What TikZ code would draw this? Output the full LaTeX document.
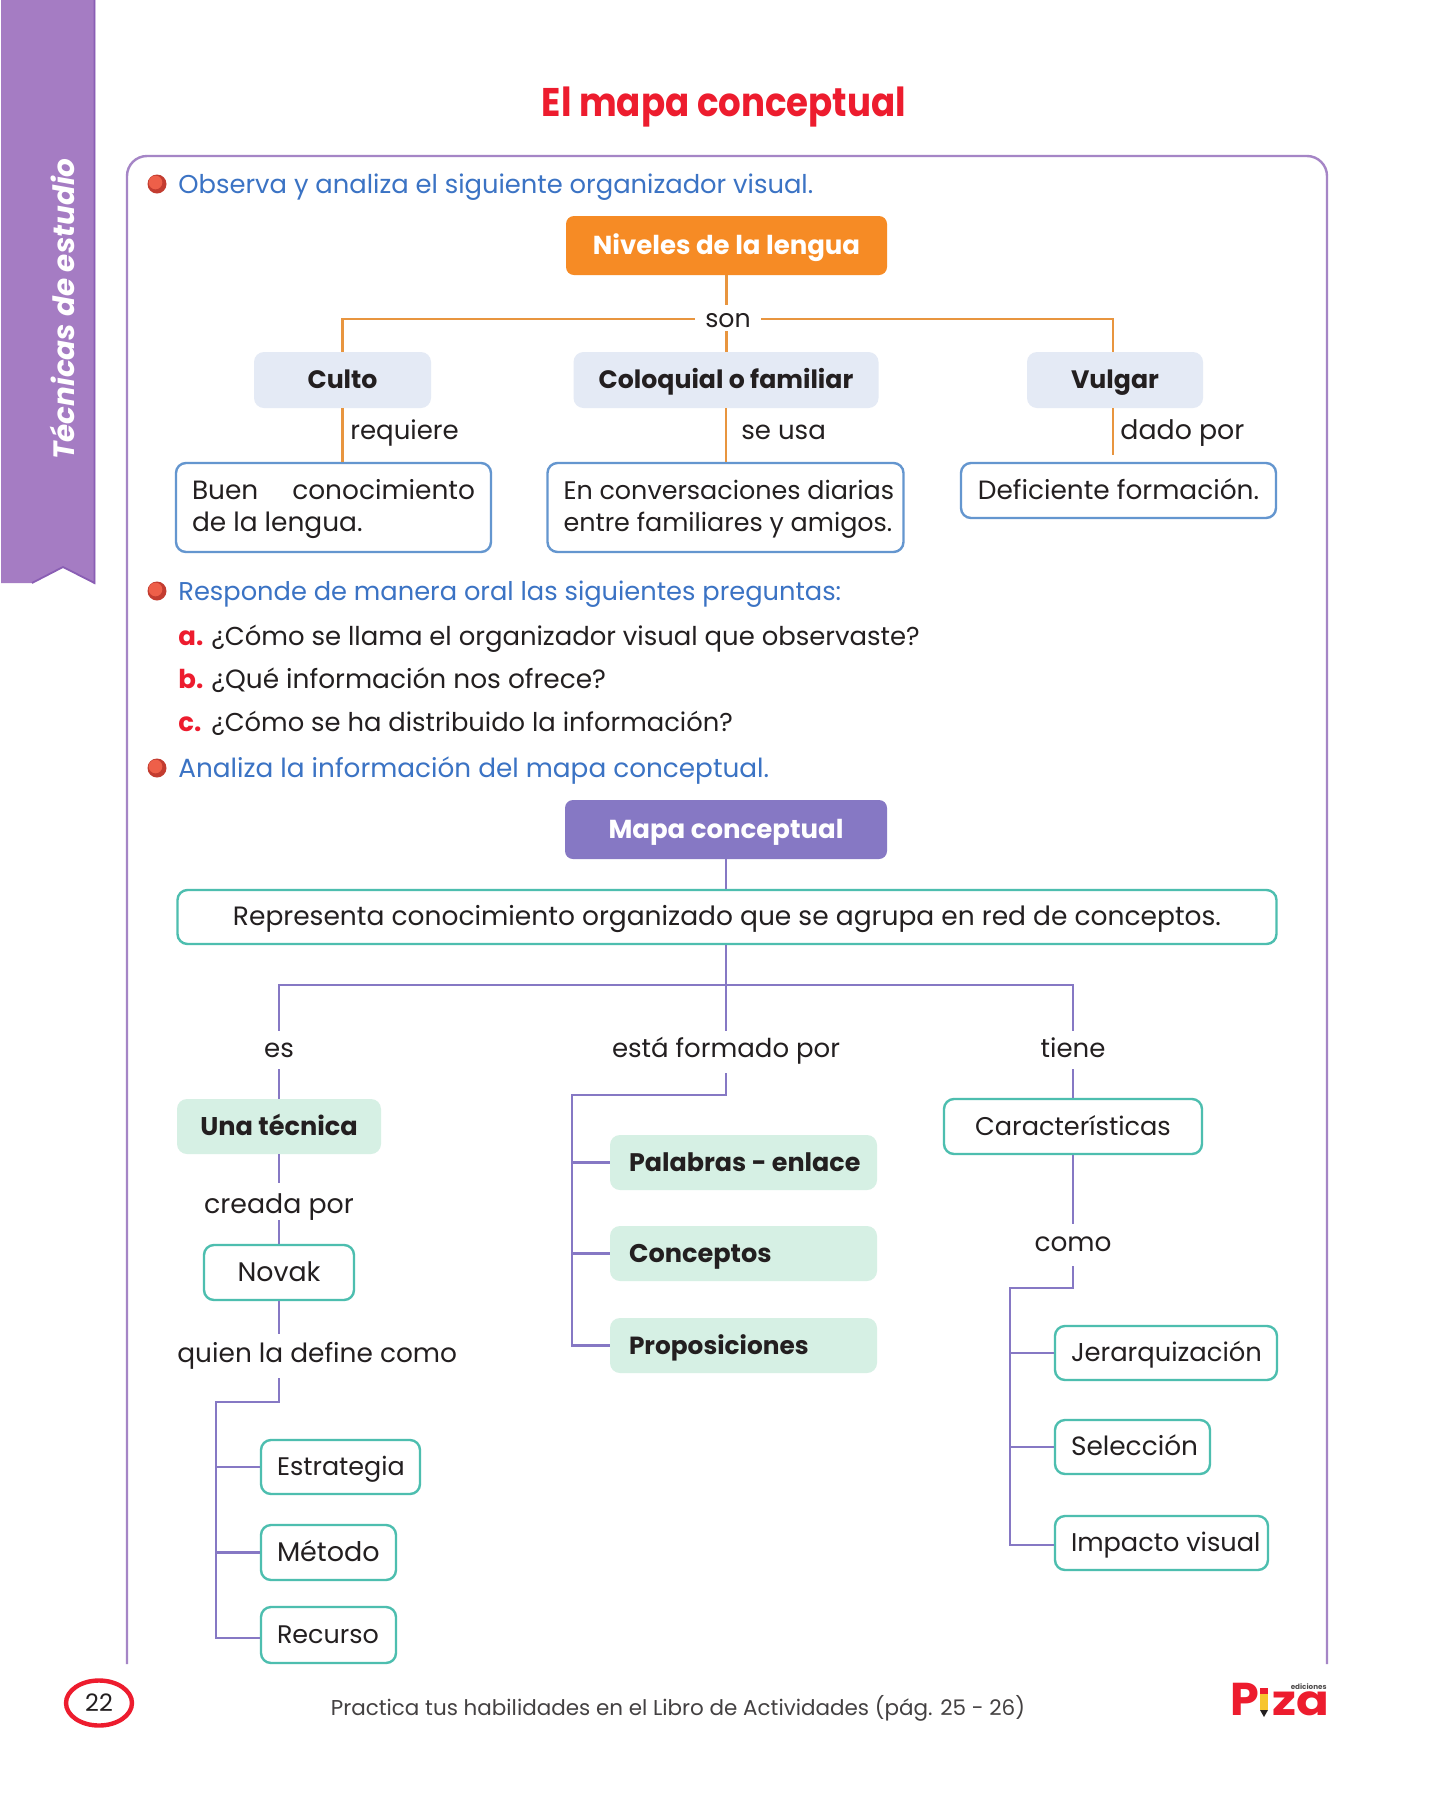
\documentclass[tikz,border=0pt]{standalone}
\usepackage{fontspec}
\setmainfont{Poppins}
\usetikzlibrary{calc,shapes.geometric}
\definecolor{ribbon}{HTML}{A57CC3}
\definecolor{ribbonedge}{HTML}{8A5EB4}
\definecolor{framec}{HTML}{A585C6}
\definecolor{titlered}{HTML}{ED1C2E}
\definecolor{blueT}{HTML}{3B73C4}
\definecolor{darkT}{HTML}{231F20}
\definecolor{orangeF}{HTML}{F68B25}
\definecolor{orangeL}{HTML}{E8953F}
\definecolor{paleblue}{HTML}{E4EAF5}
\definecolor{blueE}{HTML}{6496CF}
\definecolor{purpF}{HTML}{8678C4}
\definecolor{tealE}{HTML}{4DBEAF}
\definecolor{paleg}{HTML}{D6F0E4}
\definecolor{bulletD}{HTML}{C33C30}
\definecolor{bulletL}{HTML}{EE5F49}
\definecolor{pencilY}{HTML}{F7C52E}
\newcommand\fsz[1]{\fontsize{#1}{16}\selectfont}
\tikzset{
  x=0.5pt,y=-0.5pt,
  body/.style={font=\fsz{13},text=darkT,inner sep=0pt},
  boldt/.style={font=\fsz{12.7}\bfseries,text=darkT},
  boxsize/.style 2 args={minimum width=#1*0.5pt,minimum height=#2*0.5pt,inner sep=0pt,text height=11.5pt,text depth=3pt},
  lab/.style 2 args={body,text height=#1*0.5pt,text depth=#2*0.5pt,anchor=base},
  orangebox/.style={rectangle,rounded corners=4pt,fill=orangeF},
  purplebox/.style={rectangle,rounded corners=4pt,fill=purpF},
  whitebold/.style={font=\fsz{13}\bfseries,text=white},
  palebox/.style={rectangle,rounded corners=5pt,fill=paleblue,boldt},
  bluebox/.style={rectangle,rounded corners=5pt,draw=blueE,line width=1.2pt,fill=white,body},
  tealbox/.style={rectangle,rounded corners=5pt,draw=tealE,line width=1.2pt,fill=white,body},
  greenbox/.style={rectangle,rounded corners=5pt,fill=paleg,boldt},
  ol/.style={draw=orangeL,line width=1.1pt},
  pl/.style={draw=purpF,line width=1.2pt},
  bullet/.style={circle,minimum size=9.5pt,inner sep=0pt,fill=bulletD},
  bluetxt/.style={font=\fsz{12.9},text=blueT,inner sep=0pt,anchor=base west},
  item/.style={body,anchor=base west},
  letter/.style={font=\fsz{13}\bfseries,text=titlered,inner sep=0pt,anchor=base west},
}
\newcommand\lft[2]{\makebox[#1][l]{#2}}
\begin{document}
\begin{tikzpicture}
\useasboundingbox[fill=white] (0,0) rectangle (1452,1800);
% ribbon
\fill[ribbon] (1,0) -- (95,0) -- (95,584) -- (63,567) -- (32,583) -- (1,583) -- cycle;
\draw[ribbonedge,line width=0.9pt] (94.5,0) -- (94.5,583) -- (63,567) -- (32,583);
\node[rotate=90,text=white,inner sep=0pt,font=\fsz{14.7}\bfseries\itshape] (rib) at (62,309) {Técnicas de estudio};
% title
\node[text=titlered,inner sep=0pt,anchor=base,font=\fontsize{20}{24}\selectfont\bfseries] (title) at (724,116) {\scalebox{0.89}[1]{El mapa conceptual}};
% frame
\draw[draw=framec,line width=1.2pt,rounded corners=10pt] (127,1664) -- (127,156) -- (1327,156) -- (1327,1664);
% section headings
\node[bullet] (b1) at (157,184) {};
\fill[bulletL] ($(b1)+(-1.5,-1.5)$) circle (6.8);
\node[bluetxt] (h1) at (178,193) {Observa y analiza el siguiente organizador visual.};
\node[bullet] (b2) at (157,591) {};
\fill[bulletL] ($(b2)+(-1.5,-1.5)$) circle (6.8);
\node[bluetxt,font=\fsz{12.85}] (h2) at (178,600) {Responde de manera oral las siguientes preguntas:};
\node[letter] (la) at (178,645) {a.};
\node[item,font=\fsz{12.95}] (qa) at (211,645) {¿Cómo se llama el organizador visual que observaste?};
\node[letter] (lb) at (178,688) {b.};
\node[item,font=\fsz{13.2}] (qb) at (211,688) {¿Qué información nos ofrece?};
\node[letter] (lc) at (178,731) {c.};
\node[item,font=\fsz{12.9}] (qc) at (211,731) {¿Cómo se ha distribuido la información?};
\node[bullet] (b3) at (157,768) {};
\fill[bulletL] ($(b3)+(-1.5,-1.5)$) circle (6.8);
\node[bluetxt,font=\fsz{13.15}] (h3) at (178,777) {Analiza la información del mapa conceptual.};
% first map
\node[orangebox,boxsize={321}{59},whitebold] (nivel) at (726.5,245.5) {Niveles de la lengua};
\node[lab={22}{4},inner xsep=5pt,font=\fsz{12.6}] (son) at (728,327) {son};
\node[palebox,boxsize={177}{56},font=\fsz{12.6}\bfseries] (culto) at (342.5,380) {Culto};
\node[palebox,boxsize={305}{56},font=\fsz{12.6}\bfseries] (colo) at (726,380) {Coloquial o familiar};
\node[palebox,boxsize={176}{56},font=\fsz{12.6}\bfseries] (vulgar) at (1115,380) {Vulgar};
\node[bluebox,font=\fsz{13.2},minimum width=157.5pt,minimum height=44.5pt,inner xsep=8pt,inner ysep=0pt,align=left] (bu) at (333.5,507.5) {\hbox to 141.5pt{\rule{0pt}{12pt}Buen\hfill conocimiento}\\de la lengua.};
\node[bluebox,font=\fsz{12.7},minimum width=178pt,minimum height=44.5pt,inner xsep=8pt,inner ysep=0pt,align=left] (en) at (725.5,507.5) {\lft{162pt}{\rule{0pt}{11pt}En conversaciones diarias}\\\lft{162pt}{entre familiares y amigos.}};
\node[bluebox,boxsize={315}{55},font=\fsz{13.2}] (de) at (1118.5,490.5) {Deficiente formación.};
\node[item] (lreq) at (350,439) {requiere};
\node[item] (lse) at (741,439) {se usa};
\node[item,font=\fsz{13.4}] (ldado) at (1120,439) {dado por};
\coordinate (endv) at (1113,455);
\draw[ol] (nivel.south) -- (nivel.south |- son.north);
\draw[ol] (nivel.south |- son.south) -- (colo.north -| nivel.south);
\draw[ol] (son.west |- 0,319) -| (culto.north);
\draw[ol] (son.east |- 0,319) -| (vulgar.north -| endv);
\draw[ol] (culto.south) -- (culto.south |- bu.north);
\draw[ol] (colo.south) -- (colo.south |- en.north);
\draw[ol] (vulgar.south -| endv) -- (endv);
% second map
\node[purplebox,boxsize={322}{59},whitebold] (mapa) at (726,829.5) {Mapa conceptual\hspace{4pt}};
\node[tealbox,boxsize={1099}{54},font=\fsz{13.25}] (repr) at (727,917) {Representa conocimiento organizado que se agrupa en red de conceptos.};
\coordinate (trunk) at (726,985);
\node[lab={26}{12}] (les) at (279,1057) {es};
\node[lab={26}{16}] (lfor) at (726,1057) {está formado por};
\node[lab={26}{12}] (ltie) at (1073,1057) {tiene};
\draw[pl] (mapa.south) -- (mapa.south |- repr.north);
\draw[pl] (trunk |- repr.south) -- (lfor.north);
\draw[pl] (les.north) |- (trunk) -| (ltie.north);
% left column
\node[greenbox,boxsize={204}{55},font=\fsz{12.8}\bfseries] (tec) at (279,1126.5) {Una técnica};
\node[lab={30}{7},font=\fsz{13.4}] (lcre) at (279,1213) {creada por};
\node[tealbox,boxsize={150}{55},font=\fsz{13.4}] (nov) at (279,1272.5) {Novak};
\node[lab={28}{16},anchor=base west,font=\fsz{13.2}] (lqui) at (177,1362) {quien la define como};
\coordinate (lj) at (216,1402);
\node[tealbox,boxsize={159}{54},font=\fsz{12.7}] (est) at (340.5,1467) {\lft{63.5pt}{Estrategia}};
\node[tealbox,boxsize={135}{55},font=\fsz{13.5}] (met) at (328.5,1552.5) {\lft{51.5pt}{Método}};
\node[tealbox,boxsize={135}{56},font=\fsz{12.7}] (rec) at (328.5,1635) {\lft{51.5pt}{Recurso}};
\coordinate (rectick) at ($(rec.west)+(0,3)$);
\draw[pl] (les.south) -- (tec.north -| les.south);
\draw[pl] (tec.south) -- (lcre.north -| tec.south);
\draw[pl] (lcre.south -| nov.north) -- (nov.north);
\draw[pl] (nov.south) -- (nov.south |- lqui.north);
\draw[pl] (nov.south |- lqui.south) |- (lj) -- (lj |- rectick) -- (rectick);
\draw[pl] (lj |- est.west) -- (est.west);
\draw[pl] (lj |- met.west) -- (met.west);
% middle column
\coordinate (mj) at (572,1095);
\node[greenbox,boxsize={267}{55}] (pal) at (743.5,1162.5) {\lft{114.5pt}{Palabras - enlace}};
\node[greenbox,boxsize={267}{55},font=\fsz{12.8}\bfseries] (con) at (743.5,1253.5) {\lft{114.5pt}{Conceptos}};
\node[greenbox,boxsize={267}{55},font=\fsz{12.4}\bfseries] (pro) at (743.5,1345.5) {\lft{114.5pt}{Proposiciones}};
\draw[pl] (lfor.south) |- (mj) -- (mj |- pro.west) -- (pro.west);
\draw[pl] (mj |- pal.west) -- (pal.west);
\draw[pl] (mj |- con.west) -- (con.west);
% right column
\node[tealbox,boxsize={258}{55},font=\fsz{12.8}] (car) at (1073,1126.5) {Características};
\node[lab={27}{15},font=\fsz{13.2}] (lcom) at (1073,1251) {como};
\coordinate (rj) at (1010,1288);
\node[tealbox,boxsize={222}{54},font=\fsz{12.9}] (jer) at (1166,1353) {\lft{95pt}{Jerarquización}};
\node[tealbox,boxsize={155}{54},font=\fsz{13.2}] (sel) at (1132.5,1447) {\lft{61.5pt}{Selección}};
\node[tealbox,boxsize={213}{54},font=\fsz{12.8}] (imp) at (1161.5,1543) {\lft{90.5pt}{Impacto visual}};
\coordinate (imptick) at ($(imp.west)+(0,2)$);
\draw[pl] (ltie.south) -- (car.north -| ltie.south);
\draw[pl] (car.south) -- (lcom.north);
\draw[pl] (lcom.south) |- (rj) -- (rj |- imptick) -- (imptick);
\draw[pl] (rj |- jer.west) -- (jer.west);
\draw[pl] (rj |- sel.west) -- (sel.west);
% footer
\node[ellipse,draw=titlered,line width=2.2pt,minimum width=33pt,minimum height=22.5pt,inner sep=0pt,font=\fontsize{12}{14}\selectfont,text=darkT] (page) at (99,1703) {22};
\node[body,anchor=base,text=darkT!85,font=\fontsize{10.73}{14}\selectfont] (foot) at (678,1715) {Practica tus habilidades en el Libro de Actividades (pág. 25 - 26)};
% logo
\node[inner sep=0pt,anchor=base west,text=titlered,font=\fontsize{23}{24}\selectfont\bfseries] (logoP) at (1230,1715) {P};
\fill[pencilY] (1260,1694) rectangle (1268,1710);
\fill[darkT] (1260,1710) -- (1268,1710) -- (1264,1717) -- cycle;
\fill[titlered] (1260,1688) rectangle (1268,1694);
\node[inner sep=0pt,anchor=base west,text=titlered,font=\fontsize{21}{24}\selectfont\bfseries] (logoZ) at (1272,1715) {\scalebox{1.15}[1]{za}};
\node[inner sep=0pt,anchor=base east,text=darkT!80,font=\fontsize{3.6}{4}\selectfont\bfseries] (logoE) at (1327,1689) {ediciones};
\end{tikzpicture}
\end{document}
